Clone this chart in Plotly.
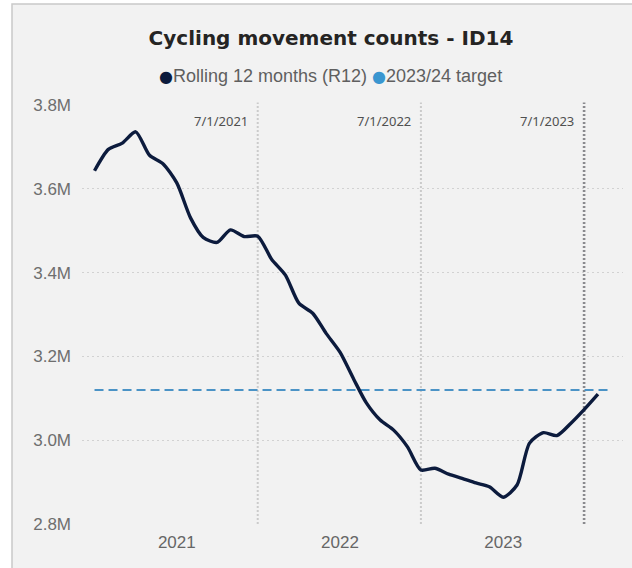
import plotly.graph_objects as go

# ---------------- data ----------------
months = [
    "2020-07-01", "2020-08-01", "2020-09-01", "2020-10-01", "2020-11-01", "2020-12-01",
    "2021-01-01", "2021-02-01", "2021-03-01", "2021-04-01", "2021-05-01", "2021-06-01",
    "2021-07-01", "2021-08-01", "2021-09-01", "2021-10-01", "2021-11-01", "2021-12-01",
    "2022-01-01", "2022-02-01", "2022-03-01", "2022-04-01", "2022-05-01", "2022-06-01",
    "2022-07-01", "2022-08-01", "2022-09-01", "2022-10-01", "2022-11-01", "2022-12-01",
    "2023-01-01", "2023-02-01", "2023-03-01", "2023-04-01", "2023-05-01", "2023-06-01",
    "2023-07-01", "2023-08-01",
]
r12_millions = [
    3.643, 3.694, 3.709, 3.736, 3.680, 3.660,
    3.614, 3.530, 3.484, 3.472, 3.502, 3.486,
    3.487, 3.432, 3.394, 3.327, 3.303, 3.255,
    3.210, 3.145, 3.089, 3.048, 3.024, 2.984,
    2.929, 2.933, 2.919, 2.909, 2.898, 2.889,
    2.864, 2.893, 2.993, 3.018, 3.011, 3.040,
    3.073, 3.110,
]
target_dates = ["2020-07-01", "2023-09-01"]
target_millions = [3.12, 3.12]

ref_dates = ["2021-07-01", "2022-07-01", "2023-07-01"]
ref_labels = ["7/1/2021", "7/1/2022", "7/1/2023"]

y_tick_values = [2.8e6, 3.0e6, 3.2e6, 3.4e6, 3.6e6, 3.8e6]
x_tick_dates = ["2021-01-01", "2022-01-01", "2023-01-01"]
x_tick_labels = ["2021", "2022", "2023"]

series_names = ["Rolling 12 months (R12)", "2023/24 target"]
title_text = "Cycling movement counts - ID14"

# ---------------- layout constants ----------------
W, H = 632, 568
PL, PR, PT, PB = 82, 623, 105, 524  # plot area in pixels


def px_x(px):
    return (px - PL) / (PR - PL)


def px_y(py):
    return (PB - py) / (PB - PT)


NAVY = "#0c1b3d"
CARD = "#f2f2f2"

r12 = [v * 1e6 for v in r12_millions]
target = [v * 1e6 for v in target_millions]

fig = go.Figure()
fig.add_trace(go.Scatter(
    x=target_dates, y=target, mode="lines", name=series_names[1],
    line=dict(color="#4b93c6", width=2, dash="9px,5px"), showlegend=False,
))
fig.add_trace(go.Scatter(
    x=months, y=r12, mode="lines", name=series_names[0],
    line=dict(color=NAVY, width=3.4, shape="spline", smoothing=0.7), showlegend=False,
))

shapes = [
    dict(type="rect", xref="paper", yref="paper",
         x0=px_x(12), x1=px_x(650), y0=px_y(590), y1=px_y(4),
         fillcolor=CARD, line=dict(color="#c9c9c9", width=1.5), layer="below"),
]
annotations = []
for i, (d, lab) in enumerate(zip(ref_dates, ref_labels)):
    last = i == len(ref_dates) - 1
    shapes.append(dict(
        type="line", xref="x", yref="paper", x0=d, x1=d, y0=0, y1=px_y(102.5),
        line=dict(color="#8a8a8e" if last else "#cbcbcb", width=2.6 if last else 2,
                  dash="2px,2px"),
        layer="below",
    ))
    annotations.append(dict(
        x=d, y=px_y(121), xref="x", yref="paper", text=lab, showarrow=False,
        xanchor="right", yanchor="middle", xshift=-8,
        font=dict(family="Noto Sans", size=13, color="#505050"),
    ))

dot_style = "font-family:'DejaVu Sans';font-size:16px"
legend_text = (
    f'<span style="color:{NAVY};{dot_style}">●</span>{series_names[0]} '
    f'<span style="color:#3a96d0;{dot_style}">●</span>{series_names[1]}'
)
annotations.append(dict(
    x=px_x(330), y=px_y(76), xref="paper", yref="paper", text=legend_text,
    showarrow=False, xanchor="center", yanchor="middle",
    font=dict(family="Liberation Sans, Arial", size=18, color="#5f5f5f"),
))

fig.update_layout(
    width=W, height=H,
    margin=dict(l=PL, r=W - PR, t=PT, b=H - PB, pad=0),
    paper_bgcolor="white",
    plot_bgcolor="rgba(0,0,0,0)",
    title=dict(text=f"<b>{title_text}</b>", x=331 / W, xanchor="center",
               y=1 - 38 / H, yanchor="middle", yref="container",
               font=dict(family="DejaVu Sans", size=20, color="#252423")),
    showlegend=False,
    shapes=shapes,
    annotations=annotations,
    xaxis=dict(
        type="date", range=["2020-06-03", "2023-09-26"],
        tickvals=x_tick_dates, ticktext=x_tick_labels,
        showgrid=False, zeroline=False, showline=False, ticks="",
        tickfont=dict(family="Liberation Sans, Arial", size=17, color="#666666"),
        ticklabelstandoff=6,
    ),
    yaxis=dict(
        range=[2.8e6, 3.8e6], tickvals=y_tick_values, tickformat=".2s",
        showgrid=True, gridcolor="#d2d2d2", gridwidth=1, griddash="2px,3px",
        zeroline=False, showline=False, ticks="",
        tickfont=dict(family="Liberation Sans, Arial", size=17, color="#6e6e6e"),
        ticklabelstandoff=10,
    ),
)

fig.write_html(
    "out.html",
    config={"displayModeBar": False},
    post_script="document.body.style.margin='0';document.body.style.overflow='hidden';",
)
